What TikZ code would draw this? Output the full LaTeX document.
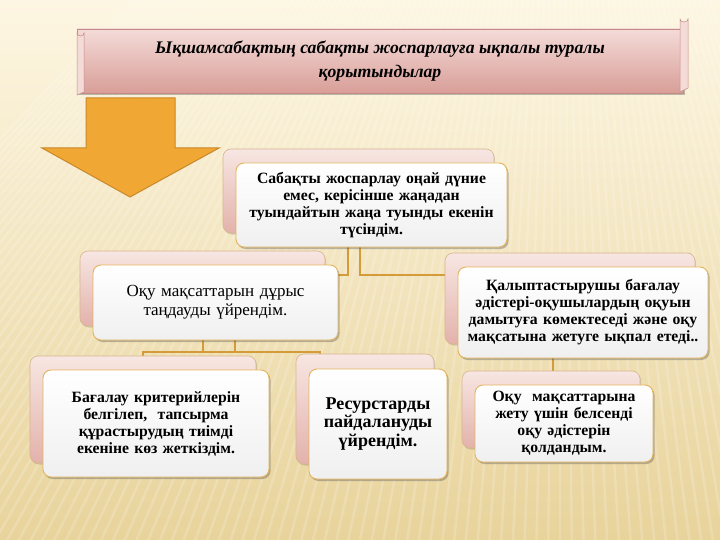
\documentclass[tikz,border=0pt]{standalone}
\usepackage{fontspec}
\setmainfont{Liberation Serif}
\usetikzlibrary{shadows}
\definecolor{bgtop}{HTML}{FDF6E2}
\definecolor{bgbot}{HTML}{E8D39B}
\definecolor{pinkT}{HTML}{F7E6E2}
\definecolor{pinkB}{HTML}{E3B2AB}
\definecolor{boxborder}{HTML}{E3B45C}
\definecolor{backborder}{HTML}{D9B58E}
\definecolor{conn}{HTML}{D39B3A}
\definecolor{arrowfill}{HTML}{F0A733}
\definecolor{arrowdraw}{HTML}{C9882A}
\definecolor{banT}{HTML}{F4DBD8}
\definecolor{banB}{HTML}{D99E98}
\definecolor{banD}{HTML}{C48A85}
\tikzset{
  frontbox/.style={draw=boxborder, line width=0.9pt, rounded corners=8pt,
    top color=white, bottom color=black!6!white, inner sep=2pt, align=center,
    drop shadow={shadow xshift=1.5pt, shadow yshift=-2pt, opacity=.35, fill=black!70}},
  backbox/.style={draw=backborder, line width=0.6pt, rounded corners=8pt,
    top color=pinkT, bottom color=pinkB, inner sep=0pt,
    drop shadow={shadow xshift=1pt, shadow yshift=-1.5pt, opacity=.2, fill=black!70}},
  connline/.style={draw=conn, line width=1.3pt},
  boxtext/.style={font=\fontsize{15.7}{17}\selectfont\bfseries},
}
\begin{document}
\begin{tikzpicture}[x=1pt,y=-1pt]
\useasboundingbox (0,0) rectangle (720,540);
% background
\fill[top color=bgtop, bottom color=bgbot] (0,0) rectangle (720,540);
\begin{scope}
\clip (0,0) rectangle (720,540);
\foreach \i in {-400,-388,...,900}{
  \draw[white, opacity=0.18, line width=2.5pt] (\i,560) -- ({560+(\i-560)*0.05},-400);
}
\end{scope}
% title banner
\node[draw=banD, line width=0.6pt, top color=banT, bottom color=banB,
  minimum width=606pt, minimum height=64pt, inner sep=0pt,
  drop shadow={shadow xshift=2pt, shadow yshift=-2.5pt, opacity=.35, fill=black!70},
  align=center, font=\fontsize{17.7}{24}\selectfont\bfseries\itshape]
  (title) at (380,61) {Ықшамсабақтың сабақты жоспарлауға ықпалы туралы\\қорытындылар};
\fill[banT, draw=banD, line width=0.5pt] (680,19) arc (180:0:4 and 3) -- (688,88) -- (680,92) -- cycle;
\fill[banT, draw=banD, line width=0.5pt] (77,33) arc (180:0:3.5 and 3) -- (84,92) -- (77,95) -- cycle;
% arrow
\filldraw[fill=arrowfill, draw=arrowdraw, line width=1pt]
  (86,98) -- (175,98) -- (175,148) -- (219,148) -- (130,197) -- (42,148) -- (86,148) -- cycle;
% connectors (behind boxes)
\coordinate (c1) at (348,240);
\coordinate (c2) at (360,240);
\coordinate (c1e) at (203,275);
\coordinate (c2e) at (570,275);
\draw[connline] (c1) |- (c1e);
\draw[connline] (c2) |- (c2e);
\draw[connline] (c1e |- 0,262) -- (c1e);
\draw[connline] (c2e |- 0,262) -- (c2e);
\coordinate (l1) at (203,330);
\coordinate (l2) at (235,330);
\coordinate (la) at (143,365);
\coordinate (lb) at (320,365);
\draw[connline] (l1) -- (203,352);
\draw[connline] (l2) -- (235,352);
\draw[connline] (la) |- (lb |- 0,352) -- (lb);
\coordinate (r1) at (553,350);
\coordinate (r2) at (553,380);
\draw[connline] (r1) -- (r2);
% back boxes
\node[backbox, minimum width=271pt, minimum height=84pt] (tb) at (358.5,191) {};
\node[backbox, minimum width=245pt, minimum height=75pt] (lb0) at (202.5,288.5) {};
\node[backbox, minimum width=250pt, minimum height=91pt] (rb0) at (570,298.5) {};
\node[backbox, minimum width=226pt, minimum height=107pt] (blb) at (143,409.5) {};
\node[backbox, minimum width=138pt, minimum height=110pt] (bmb) at (365,409) {};
\node[backbox, minimum width=178pt, minimum height=77pt] (brb) at (551,409.5) {};
% front boxes
\node[frontbox, boxtext, minimum width=271pt, minimum height=84pt, text width=264pt] (top) at (371.5,205)
  {Сабақты жоспарлау оңай дүние\\емес, керісінше жаңадан\\туындайтын жаңа туынды екенін\\түсіндім.};
\node[frontbox, minimum width=245pt, minimum height=75pt, text width=238pt,
  font=\fontsize{17}{19}\selectfont] (lm) at (215.5,302.5)
  {Оқу мақсаттарын дұрыс\\таңдауды үйрендім.};
\node[frontbox, boxtext, minimum width=250pt, minimum height=91pt, text width=246pt] (rm) at (583,312.5)
  {Қалыптастырушы бағалау\\әдістері-оқушылардың оқуын\\дамытуға көмектеседі және оқу\\мақсатына жетуге ықпал етеді..};
\node[frontbox, boxtext, minimum width=226pt, minimum height=107pt, text width=220pt] (bl) at (156,423.5)
  {Бағалау критерийлерін\\белгілеп,\ \ тапсырма\\құрастырудың тиімді\\екеніне көз жеткіздім.};
\node[frontbox, minimum width=138pt, minimum height=110pt, text width=132pt,
  font=\fontsize{18}{18.5}\selectfont\bfseries] (bm) at (378,424)
  {Ресурстарды\\пайдалануды\\үйрендім.};
\node[frontbox, boxtext, minimum width=178pt, minimum height=77pt, text width=174pt] (br) at (564,423.5)
  {Оқу\ \ мақсаттарына\\жету үшін белсенді\\оқу әдістерін\\қолдандым.};
\end{tikzpicture}
\end{document}
